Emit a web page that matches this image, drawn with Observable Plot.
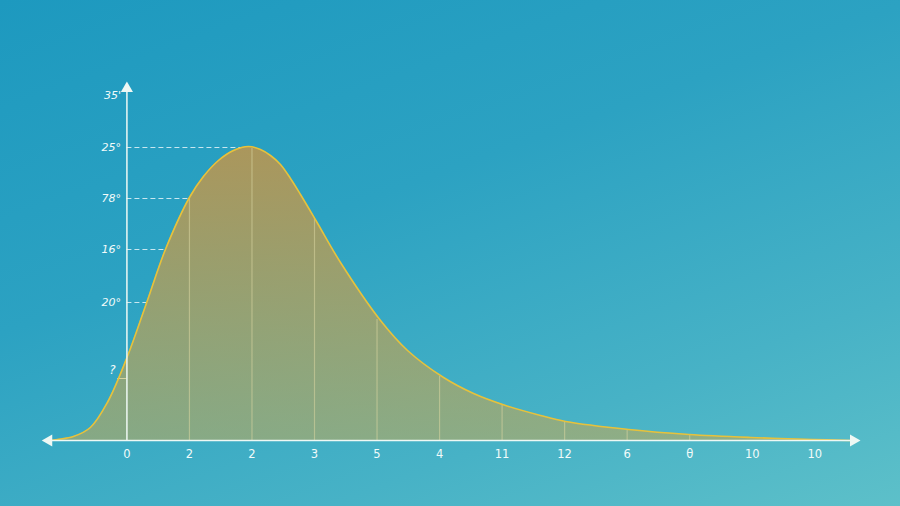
<!DOCTYPE html>
<html>
<head>
<meta charset="utf-8">
<script src="https://cdn.jsdelivr.net/npm/d3@7"></script>
<script src="https://cdn.jsdelivr.net/npm/@observablehq/plot@0.6"></script>
<style>
  html, body { margin: 0; padding: 0; }
  body {
    width: 900px; height: 506px; overflow: hidden;
    background: linear-gradient(160deg, #1d99bf 0%, #2ca2c2 40%, #47b2c6 75%, #5dc0c9 100%);
  }
  #chart svg { display: block; }
</style>
</head>
<body>
<div id="chart"></div>
<script>
// Curve (x in tick-index units, y = height above baseline)
const curveX = [-1.224, -1.112, -0.856, -0.584, -0.312, 0.008, 0.328, 0.616, 1.0, 1.224, 1.464, 1.704, 1.944, 2.136, 2.296, 2.456, 2.616, 2.776, 3.032, 3.416, 4.056, 4.488, 5.064, 5.544, 6.056, 6.616, 7.016, 8.024, 8.984, 9.976, 10.968, 11.576];
const curveY = [0, 1, 4, 13, 38, 84, 140, 191, 243, 264, 280, 290, 294, 291, 285, 276, 262, 246, 219, 178, 120, 90, 63, 47, 35, 25, 19, 11, 6, 3, 1, 0];

// Vertical lines under the curve
const dropX = [1, 2, 3, 4, 5, 6, 7, 8, 9];
const dropY = [243, 292, 222, 121, 64, 36, 19, 11, 6];

// X tick labels
const xTickPos = [0, 1, 2, 3, 4, 5, 6, 7, 8, 9, 10, 11];
const xTickLabels = ["0", "2", "2", "3", "5", "4", "11", "12", "6", "θ", "10", "10"];

// Y tick labels
const yTickPos = [345, 293, 242, 191, 138];
const yTickLabels = ["35'", "25°", "78°", "16°", "20°"];
// dashed guide lines: level and where they meet the curve
const guideY = [293, 242, 191, 138];
const guideEnd = [1.86, 0.98, 0.62, 0.32];
// small lower tick
const lowTickY = [62];
const lowTickStart = [-0.15];
const lowTickLabel = ["?"];

const curve = curveX.map((x, i) => ({x, y: curveY[i]}));
const drops = dropX.map((x, i) => ({x, y: dropY[i]}));
const xticks = xTickPos.map((x, i) => ({x, label: xTickLabels[i]}));
const yticks = yTickPos.map((y, i) => ({y, label: yTickLabels[i]}));
const guides = guideY.map((y, i) => ({y, x2: guideEnd[i]}));
const lows = lowTickY.map((y, i) => ({y, x1: lowTickStart[i], label: lowTickLabel[i]}));

const axisColor = "#eef8f4";
const textColor = "#f2fbfa";

const chart = Plot.plot({
  width: 900,
  height: 506,
  marginLeft: 42,
  marginRight: 42,
  marginTop: 78,
  marginBottom: 66,
  x: {domain: [-1.35, 11.7], axis: null},
  y: {domain: [0, 362], axis: null},
  style: {background: "transparent", fontFamily: "DejaVu Sans"},
  marks: [
    Plot.areaY(curve, {x: "x", y: "y", fill: "url(#areaGrad)", curve: "catmull-rom"}),
    Plot.ruleX(drops, {x: "x", y1: 0, y2: "y", stroke: "#d8d6a0", strokeOpacity: 0.55, strokeWidth: 1.2}),
    Plot.ruleY(guides, {y: "y", x1: 0, x2: "x2", stroke: "#ffffff", strokeOpacity: 0.75, strokeWidth: 1, strokeDasharray: "5,3"}),
    Plot.ruleY(lows, {y: "y", x1: "x1", x2: 0, stroke: "#e8e0a8", strokeOpacity: 0.8, strokeWidth: 1}),
    Plot.lineY(curve, {x: "x", y: "y", stroke: "#e6c23c", strokeWidth: 1.6, curve: "catmull-rom"}),
    // axes
    Plot.ruleY([0], {x1: -1.25, x2: 11.62, stroke: axisColor, strokeWidth: 1.5}),
    Plot.ruleX([0], {y1: 0, y2: 352, stroke: axisColor, strokeWidth: 1.5}),
    Plot.dot([{x: 11.62, y: 0, r: 90}, {x: -1.25, y: 0, r: -90}], {x: "x", y: "y", rotate: "r", symbol: "triangle", r: 4.5, fill: axisColor, stroke: "none"}),
    Plot.dot([{x: 0, y: 352}], {x: "x", y: "y", symbol: "triangle", r: 4.5, fill: axisColor, stroke: "none"}),
    // tick labels
    Plot.text(xticks, {x: "x", y: 0, text: "label", dy: 14, fill: textColor, fontSize: 11.5}),
    Plot.text(yticks, {x: 0, y: "y", text: "label", dx: -6, textAnchor: "end", fill: textColor, fontSize: 11, fontStyle: "italic"}),
    Plot.text(lows, {x: "x1", y: "y", text: "label", dy: -8, dx: -2, textAnchor: "end", fill: textColor, fontSize: 12, fontStyle: "italic"})
  ]
});

// gradient for the area fill
const svg = d3.select(chart);
const defs = svg.insert("defs", ":first-child");
const grad = defs.append("linearGradient").attr("id", "areaGrad").attr("x1", 0).attr("y1", 0).attr("x2", 0).attr("y2", 1);
grad.append("stop").attr("offset", "0%").attr("stop-color", "#c2954a").attr("stop-opacity", 0.85);
grad.append("stop").attr("offset", "100%").attr("stop-color", "#c4a852").attr("stop-opacity", 0.55);

document.getElementById("chart").appendChild(chart);
</script>
</body>
</html>
